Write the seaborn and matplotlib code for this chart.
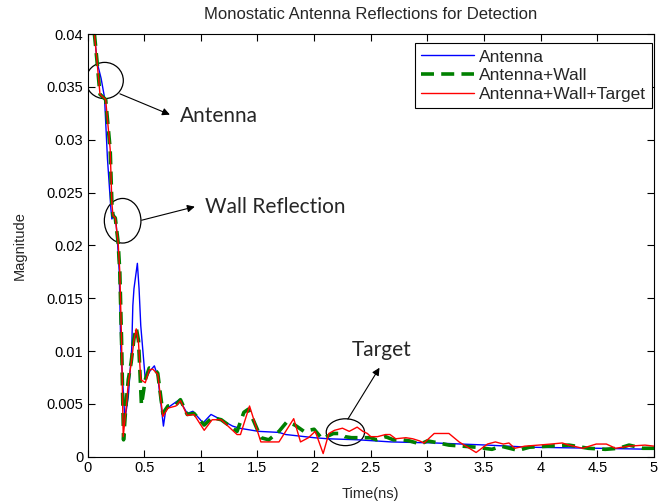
import matplotlib
matplotlib.use("Agg")
import matplotlib.pyplot as plt
from matplotlib.patches import Ellipse
from matplotlib.ticker import FuncFormatter, MultipleLocator
import seaborn as sns

# ---- data (time in ns, magnitude) ----
t_antenna = [0.06, 0.085, 0.12, 0.15, 0.176, 0.206, 0.215, 0.235, 0.25, 0.265, 0.28,
             0.294, 0.33, 0.36, 0.39, 0.40, 0.41, 0.44, 0.455, 0.47, 0.51, 0.55, 0.59,
             0.62, 0.67, 0.69, 0.73, 0.81, 0.88, 0.93, 1.02, 1.09, 1.18, 1.28, 1.34,
             1.51, 1.69, 1.75, 2.0, 2.12, 2.39, 2.68, 3.07, 3.53, 3.9, 4.5, 5.0]
mag_antenna = [0.0401, 0.0373, 0.0358, 0.0340, 0.0282, 0.0235, 0.0225, 0.0229, 0.0224,
               0.0203, 0.0175, 0.0102, 0.0035, 0.0057, 0.0102, 0.0143, 0.0159, 0.0183,
               0.0159, 0.0124, 0.0073, 0.0081, 0.0086, 0.0076, 0.0029, 0.0044, 0.0048,
               0.0054, 0.0041, 0.0043, 0.0032, 0.0040, 0.0035, 0.0029, 0.0027, 0.0024,
               0.0023, 0.0021, 0.0018, 0.0017, 0.0016, 0.0014, 0.0013, 0.0011, 0.0009,
               0.0008, 0.0007]

t_wall = [0.06, 0.085, 0.11, 0.16, 0.20, 0.215, 0.225, 0.245, 0.27, 0.285, 0.30, 0.318,
          0.34, 0.36, 0.385, 0.41, 0.43, 0.45, 0.476, 0.51, 0.545, 0.59, 0.62, 0.665,
          0.71, 0.78, 0.82, 0.88, 0.94, 1.03, 1.10, 1.18, 1.32, 1.38, 1.42, 1.47, 1.53,
          1.60, 1.69, 1.76, 1.83, 1.91, 2.0, 2.07, 2.17, 2.22, 2.27, 2.33, 2.41, 2.5,
          2.55, 2.63, 2.70, 2.78, 2.84, 2.94, 3.0, 3.10, 3.19, 3.31, 3.43, 3.57, 3.65,
          3.8, 3.9, 4.07, 4.25, 4.42, 4.57, 4.69, 4.78, 4.9, 5.0]
mag_wall = [0.0401, 0.0373, 0.0343, 0.0338, 0.0291, 0.0240, 0.0228, 0.0226, 0.0203,
            0.0175, 0.0112, 0.0016, 0.0050, 0.0073, 0.0089, 0.0112, 0.0122, 0.0110,
            0.0049, 0.0073, 0.0084, 0.0083, 0.0079, 0.0041, 0.0048, 0.0049, 0.0054,
            0.0040, 0.0041, 0.0030, 0.0037, 0.0035, 0.0024, 0.0042, 0.0045, 0.0033,
            0.0018, 0.0016, 0.0024, 0.0033, 0.0030, 0.0024, 0.0026, 0.0017, 0.0022,
            0.0022, 0.0019, 0.0018, 0.0018, 0.0018, 0.0016, 0.0019, 0.0016, 0.0016,
            0.0015, 0.0012, 0.0015, 0.0013, 0.0011, 0.0010, 0.0009, 0.0007, 0.0010,
            0.0006, 0.0009, 0.0010, 0.0011, 0.0008, 0.0007, 0.0008, 0.0011, 0.0008,
            0.0008]

t_target = [0.06, 0.085, 0.11, 0.16, 0.20, 0.215, 0.225, 0.245, 0.27, 0.285, 0.30,
            0.315, 0.34, 0.36, 0.385, 0.41, 0.43, 0.45, 0.47, 0.51, 0.545, 0.575, 0.62,
            0.665, 0.71, 0.78, 0.82, 0.88, 0.94, 1.03, 1.10, 1.18, 1.32, 1.35, 1.43,
            1.53, 1.60, 1.69, 1.82, 1.88, 1.95, 2.01, 2.08, 2.13, 2.18, 2.25, 2.31, 2.38,
            2.43, 2.47, 2.50, 2.56, 2.63, 2.67, 2.72, 2.81, 2.87, 2.93, 2.97, 3.06, 3.19,
            3.28, 3.43, 3.53, 3.6, 3.67, 3.72, 3.77, 3.86, 3.98, 4.09, 4.19, 4.25, 4.37,
            4.49, 4.58, 4.66, 4.78, 4.92, 5.0]
mag_target = [0.0401, 0.0373, 0.0343, 0.0338, 0.0291, 0.0240, 0.0228, 0.0226, 0.0203,
              0.0175, 0.0112, 0.0019, 0.0045, 0.0070, 0.0088, 0.0110, 0.0121, 0.0108,
              0.0073, 0.0070, 0.0082, 0.0083, 0.0078, 0.0038, 0.0046, 0.0048, 0.0053,
              0.0039, 0.0040, 0.0025, 0.0035, 0.0035, 0.0021, 0.0021, 0.0048, 0.0014,
              0.0014, 0.0014, 0.0036, 0.0014, 0.0018, 0.0024, 0.0003, 0.0022, 0.0025,
              0.0027, 0.0024, 0.0028, 0.0024, 0.0022, 0.0019, 0.0019, 0.0021, 0.0021,
              0.0017, 0.0018, 0.0017, 0.0015, 0.0013, 0.0022, 0.0022, 0.0014, 0.0004,
              0.0012, 0.0014, 0.0012, 0.0013, 0.0008, 0.0010, 0.0011, 0.0012, 0.0013,
              0.0011, 0.0008, 0.0012, 0.0012, 0.0008, 0.0010, 0.0011, 0.0010]

sns.set_style("ticks")
plt.rcParams["font.family"] = ["Liberation Sans", "DejaVu Sans"]

fig = plt.figure(figsize=(6.6, 5.04), dpi=100)
ax = fig.add_axes([0.1326, 0.0938, 0.8583, 0.8387])

sns.lineplot(x=t_antenna, y=mag_antenna, ax=ax, color="#0000ff", lw=1.0,
             sort=False, estimator=None, label="Antenna")
sns.lineplot(x=t_wall, y=mag_wall, ax=ax, color="#008000", lw=2.6,
             sort=False, estimator=None, label="Antenna+Wall")
ax.lines[-1].set_dashes([3.6, 2])
sns.lineplot(x=t_target, y=mag_target, ax=ax, color="#ff0000", lw=1.0,
             sort=False, estimator=None, label="Antenna+Wall+Target")

ax.set_xlim(0, 5)
ax.set_ylim(0, 0.04)
ax.xaxis.set_major_locator(MultipleLocator(0.5))
ax.yaxis.set_major_locator(MultipleLocator(0.005))
ax.xaxis.set_major_formatter(FuncFormatter(lambda v, _: f"{v:g}"))
ax.yaxis.set_major_formatter(FuncFormatter(lambda v, _: f"{v:g}"))
ax.tick_params(direction="in", top=True, right=True, length=5, width=0.8,
               labelsize=10.5, colors="black", pad=3)
for sp in ax.spines.values():
    sp.set_visible(True)
    sp.set_color("black")
    sp.set_linewidth(0.8)

ax.set_title("Monostatic Antenna Reflections for Detection", fontsize=12, pad=11)
ax.set_xlabel("Time(ns)", fontsize=10.5, labelpad=9)
ax.set_ylabel("Magnitude", fontsize=10.5, labelpad=14)

leg = ax.legend(loc="upper right", bbox_to_anchor=(0.997, 0.978), fontsize=12.5,
                frameon=True, fancybox=False, edgecolor="black", framealpha=1,
                handlelength=3.05, borderaxespad=0, borderpad=0.35, labelspacing=0.2,
                handletextpad=0.3)
leg.get_frame().set_linewidth(0.8)

# annotations: ellipses and arrows
for cx, cy, w, h in [(0.151, 0.0356, 0.33, 0.00343),
                     (0.31, 0.02233, 0.323, 0.00422),
                     (2.276, 0.00232, 0.338, 0.00254)]:
    ax.add_patch(Ellipse((cx, cy), w, h, fill=False, edgecolor="black", lw=0.9))

notes = [("Antenna", (0.286, 0.03434), (0.727, 0.03237), (0.815, 0.0322)),
         ("Wall Reflection", (0.478, 0.02238), (0.947, 0.02366), (1.035, 0.0236)),
         ("Target", (2.298, 0.00356), (2.577, 0.00842), (2.328, 0.01007))]
for label, start, end, pos in notes:
    ax.annotate("", xy=end, xytext=start,
                arrowprops=dict(arrowstyle="-|>", color="black", lw=0.8,
                                mutation_scale=11, shrinkA=0, shrinkB=0))
    ax.text(pos[0], pos[1], label, fontsize=15, va="center", ha="left",
            family=["Lato", "DejaVu Sans"])

fig.savefig("out.png", dpi=100)
